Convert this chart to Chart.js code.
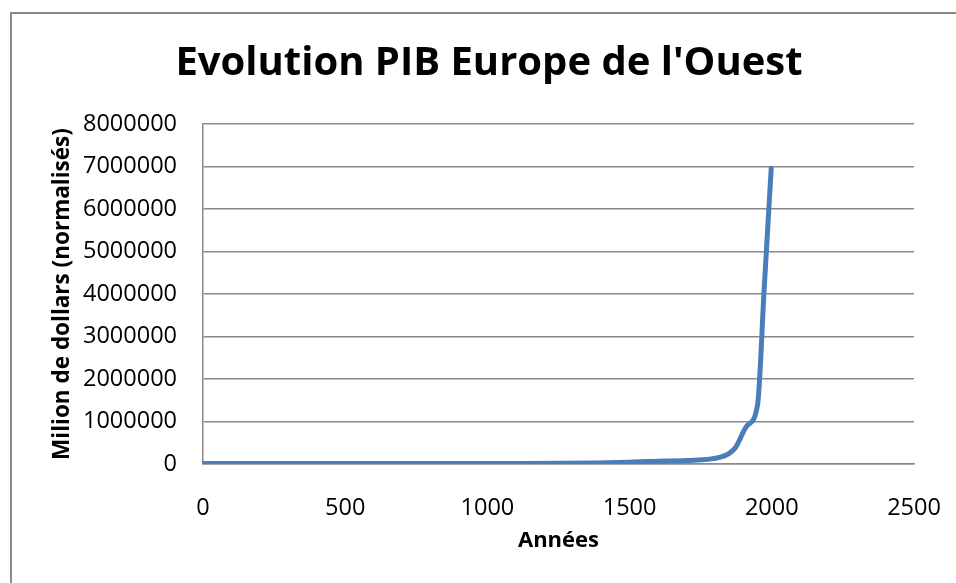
<!DOCTYPE html>
<html>
<head>
<meta charset="utf-8">
<script src="https://cdn.jsdelivr.net/npm/chart.js@4"></script>
<style>
  html, body { margin: 0; padding: 0; background: #fff; overflow: hidden; }
  #cadre { position: absolute; left: 10px; top: 12px; width: 1000px; height: 700px; border: 2px solid #8a8a8a; box-sizing: border-box; }
  canvas { position: absolute; left: 0; top: 0; }
</style>
</head>
<body>
<div id="cadre"></div>
<canvas id="graphique" width="956" height="583"></canvas>
<script>
const titre = "Evolution PIB Europe de l'Ouest";
const annees = [1, 1000, 1500, 1600, 1700, 1820, 1870, 1913, 1950, 1973, 1998];
const pib = [11000, 10000, 44000, 66000, 82000, 160000, 367000, 902000, 1396000, 4096000, 6961000];

const ticksX = [0, 500, 1000, 1500, 2000, 2500];
const ticksY = [0, 1000000, 2000000, 3000000, 4000000, 5000000, 6000000, 7000000, 8000000];

const police = "'Open Sans', 'Liberation Sans', sans-serif";
const gris = "#8a8a8a";

// titre centre sur le cadre du graphique (comme Excel), pas sur le canvas
const titreCentre = {
  id: "titreCentre",
  afterDraw(chart) {
    const c = chart.ctx;
    c.save();
    c.font = "bold 40px " + police;
    c.fillStyle = "#000";
    c.textAlign = "center";
    c.textBaseline = "middle";
    c.fillText(titre, 489, 64);
    c.restore();
  },
};

const ctx = document.getElementById("graphique").getContext("2d");

new Chart(ctx, {
  type: "scatter",
  data: {
    datasets: [
      {
        label: "PIB",
        data: annees.map((a, i) => ({ x: a, y: pib[i] })),
        showLine: true,
        borderColor: "#4a7ebb",
        borderWidth: 5,
        pointRadius: 0,
        cubicInterpolationMode: "monotone",
        borderCapStyle: "round",
        borderJoinStyle: "round",
      },
    ],
  },
  options: {
    responsive: false,
    animation: false,
    layout: { padding: { left: 0, right: 42, top: 124, bottom: 0 } },
    plugins: {
      legend: { display: false },
      tooltip: { enabled: false },
      title: { display: false },
    },
    scales: {
      x: {
        type: "linear",
        min: 0,
        max: 2500,
        afterBuildTicks: (axe) => {
          axe.ticks = ticksX.map((v) => ({ value: v }));
        },
        afterFit: (axe) => {
          axe.height = 119;
          axe.paddingLeft = 0;
          axe.paddingRight = 0;
        },
        grid: { display: false, drawTicks: false },
        border: { display: true, color: gris, width: 1.5 },
        ticks: {
          color: "#000",
          padding: 30,
          maxRotation: 0,
          font: { family: police, size: 23.5 },
          callback: (v) => String(v),
        },
        title: {
          display: true,
          text: "Années",
          color: "#000",
          font: { family: police, size: 22, weight: "bold", lineHeight: 1.2 },
          padding: { top: 0, bottom: 29 },
        },
      },
      y: {
        type: "linear",
        min: 0,
        max: 8000000,
        afterBuildTicks: (axe) => {
          axe.ticks = ticksY.map((v) => ({ value: v }));
        },
        afterFit: (axe) => {
          axe.width = 203;
          axe.paddingTop = 0;
          axe.paddingBottom = 0;
        },
        grid: { color: gris, lineWidth: 1.5, drawTicks: false },
        border: { display: true, color: gris, width: 1.5 },
        ticks: {
          color: "#000",
          padding: 26,
          font: { family: police, size: 23.5 },
          callback: (v) => String(v),
        },
        title: {
          display: true,
          text: "Milion de dollars (normalisés)",
          color: "#000",
          font: { family: police, size: 22.5, weight: "bold", lineHeight: 1.2 },
          padding: { top: 49, bottom: 0 },
        },
      },
    },
  },
  plugins: [titreCentre],
});
</script>
</body>
</html>
